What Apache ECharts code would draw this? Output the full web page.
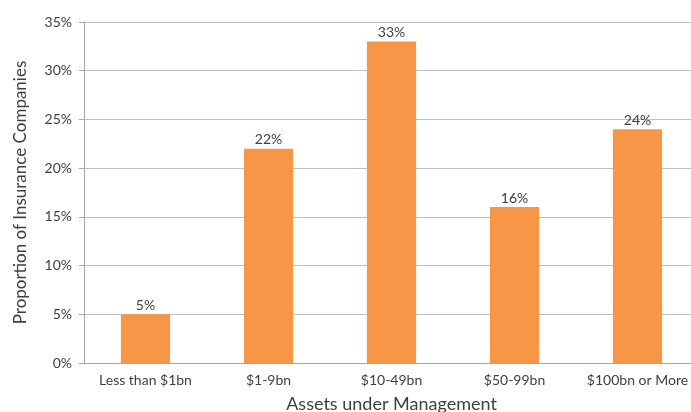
<!DOCTYPE html>
<html><head><meta charset="utf-8">
<script src="https://cdn.jsdelivr.net/npm/echarts@6/dist/echarts.min.js"></script>
<style>html,body{margin:0;padding:0;background:#fff}#c{width:691px;height:412px}</style>
</head><body><div id="c"></div>
<script>
const categories = ['Less than $1bn', '$1-9bn', '$10-49bn', '$50-99bn', '$100bn or More'];
const values = [5, 22, 33, 16, 24];
const yTicks = [0, 5, 10, 15, 20, 25, 30, 35];
const font = 'Lato, "Noto Sans", sans-serif';
const chart = echarts.init(document.getElementById('c'), null, {renderer: 'canvas'});
chart.setOption({
  animation: false,
  grid: {left: 84, top: 22, width: 615, height: 341, containLabel: false, outerBoundsMode: 'none'},
  xAxis: {
    type: 'category', data: categories,
    name: 'Assets under Management', nameLocation: 'middle', nameGap: 32,
    nameTextStyle: {fontFamily: font, fontSize: 18, color: '#404040'},
    axisLine: {lineStyle: {color: '#a6a6a6'}},
    axisTick: {length: 5, lineStyle: {color: '#a6a6a6'}},
    axisLabel: {fontFamily: font, fontSize: 14, color: '#404040', margin: 10, interval: 0, hideOverlap: false}
  },
  yAxis: {
    type: 'value', min: 0, max: 35, interval: 5,
    name: 'Proportion of Insurance Companies', nameLocation: 'middle', nameGap: 55, nameRotate: 90,
    nameTextStyle: {fontFamily: font, fontSize: 17, color: '#404040'},
    axisLine: {show: true, lineStyle: {color: '#a6a6a6'}},
    axisTick: {show: true, length: 5, lineStyle: {color: '#a6a6a6'}},
    splitLine: {lineStyle: {color: '#bfbfbf'}},
    axisLabel: {fontFamily: font, fontSize: 14, color: '#404040', margin: 12,
      formatter: v => yTicks.includes(v) ? v + '%' : ''}
  },
  series: [{
    type: 'bar', data: values, barWidth: '40%',
    itemStyle: {color: '#F79646'},
    label: {show: true, position: 'top', distance: 2, formatter: p => p.value + '%',
      fontFamily: font, fontSize: 14, color: '#404040'}
  }]
});
</script></body></html>
